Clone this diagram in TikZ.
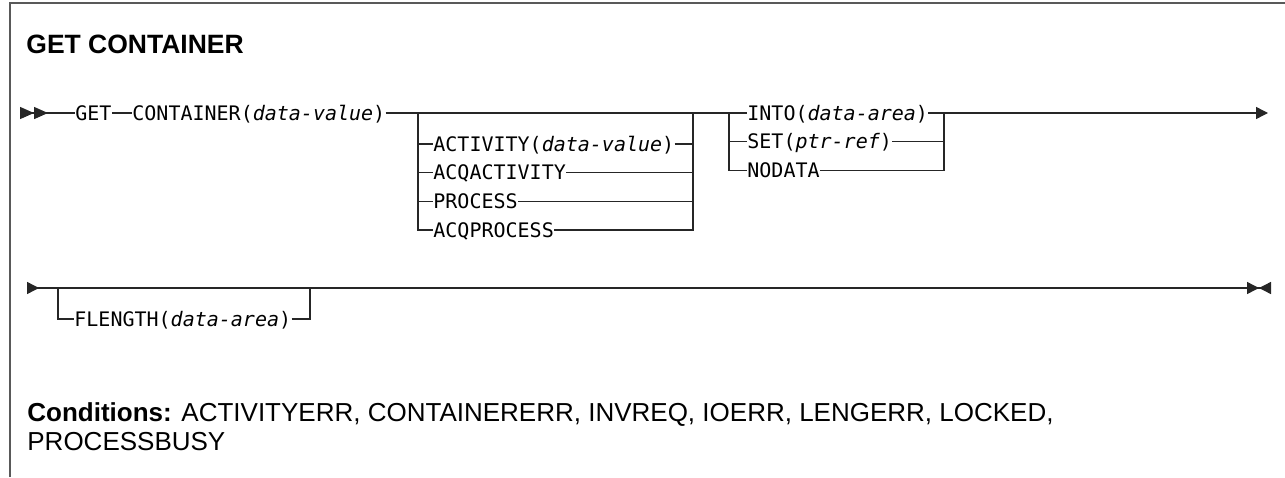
\documentclass[tikz,border=0pt]{standalone}
\usepackage{fontspec}
\setmainfont{Liberation Sans}
\setmonofont{DejaVu Sans Mono}
\usetikzlibrary{positioning,arrows.meta}

\begin{document}
\begin{tikzpicture}[
    x=0.5pt, y=-0.5pt,
    node distance=14.3pt,
    every node/.style={inner sep=0pt},
    kw/.style={font=\ttfamily\fontsize{10pt}{12pt}\selectfont, text height=7.3pt, text depth=0pt, anchor=west},
    rail/.style={line width=0.7pt, draw=black!85},
    frame/.style={line width=1pt, draw=black!65},
    cond/.style={anchor=base west, font=\fontsize{13pt}{15.6pt}\selectfont}
]
\useasboundingbox (0,0) rectangle (1285,477);
\draw[frame] (10,477) -- (10,3) -- (1285,3);
\node[anchor=base west, font=\bfseries\fontsize{13.25pt}{16pt}\selectfont] (title) at (26,53) {GET CONTAINER};

% first rail
\coordinate (start1) at (20,113);
\coordinate (end1) at (1268,113);
\coordinate (a1) at (418,113);
\coordinate (a2) at (693,113);
\coordinate (b1) at (729,113);
\coordinate (b2) at (944,113);
\node[kw] (get) at (75,113) {GET};
\node[kw] (cont) at (132,113) {CONTAINER(\textit{data-value})};
\node[kw] (actv) at (433,144) {ACTIVITY(\textit{data-value})};
\node[kw, below=of actv.west, anchor=west] (acqact) {ACQACTIVITY};
\node[kw, below=of acqact.west, anchor=west] (proc) {PROCESS};
\node[kw, below=of proc.west, anchor=west] (acqproc) {ACQPROCESS};
\node[kw] (into) at (747,113) {INTO(\textit{data-area})};
\node[kw, below=of into.west, anchor=west] (set) {SET(\textit{ptr-ref})};
\node[kw, below=of set.west, anchor=west] (nodata) {NODATA};
\draw[rail, {Triangle[reversed,length=7pt,width=6pt] Triangle[reversed,length=7pt,width=6pt]}-] (start1) -- (get.west);
\draw[rail] (get.east) -- (cont.west);
\draw[rail] (cont.east) -- (into.west);
\draw[rail, -{Triangle[length=6pt,width=6pt]}] (into.east) -- (end1);
\foreach \n in {actv,acqact,proc,acqproc}
    \draw[rail] (a1) |- (\n.west) (\n.east) -| (a2);
\foreach \n in {set,nodata}
    \draw[rail] (b1) |- (\n.west) (\n.east) -| (b2);

% second rail
\coordinate (start2) at (27,288);
\coordinate (end2) at (1271,288);
\coordinate (c1) at (58,288);
\coordinate (c2) at (310,288);
\node[kw] (flen) at (74,319) {FLENGTH(\textit{data-area})};
\draw[rail, {Triangle[reversed,length=6pt,width=6pt]}-{Triangle[length=6pt,width=6pt] Triangle[reversed,length=6pt,width=6pt]}] (start2) -- (end2);
\draw[rail] (c1) |- (flen.west) (flen.east) -| (c2);

\node[cond] (conds) at (27,421) {\textbf{Conditions:} ACTIVITYERR, CONTAINERERR, INVREQ, IOERR, LENGERR, LOCKED,};
\node[cond] (busy) at (27,450) {PROCESSBUSY};
\end{tikzpicture}
\end{document}
